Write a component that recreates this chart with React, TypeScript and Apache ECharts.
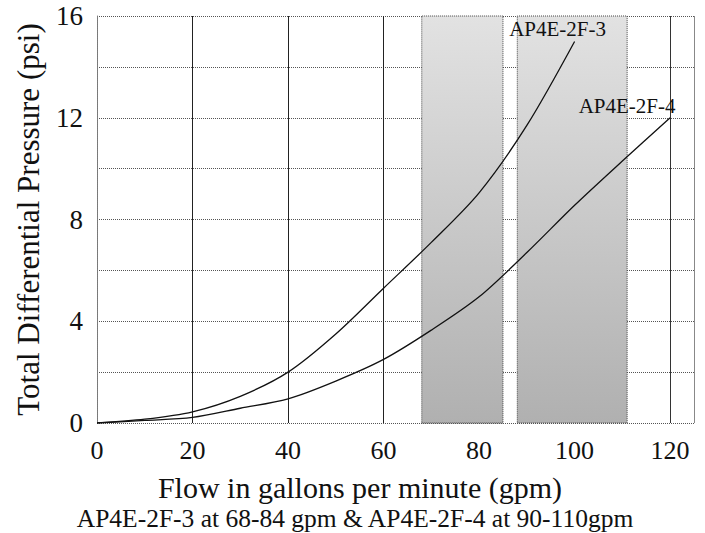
import React, { useEffect, useRef } from "react";
import * as echarts from "echarts";

const flowA = [0, 10, 20, 30, 40, 50, 60, 70, 80, 90, 100];
const pressA = [0, 0.15, 0.44, 1.05, 2.0, 3.5, 5.3, 7.1, 9.05, 11.7, 15.0];
const flowB = [0, 10, 20, 30, 40, 50, 60, 70, 80, 90, 100, 110, 120];
const pressB = [0, 0.1, 0.22, 0.58, 0.95, 1.65, 2.5, 3.65, 4.96, 6.7, 8.56, 10.3, 12.0];
const nameA = "AP4E-2F-3";
const nameB = "AP4E-2F-4";
const bandA = [68, 85];
const bandB = [88, 111];
const xTitle = "Flow in gallons per minute (gpm)";
const subTitle = "AP4E-2F-3 at 68-84 gpm & AP4E-2F-4 at 90-110gpm";
const yTitle = "Total Differential Pressure (psi)";

const FONT = "Liberation Serif";

function mkData(xs: number[], ys: number[], label: any) {
  return xs.map((x, i) =>
    i === xs.length - 1 ? { value: [x, ys[i]], label } : { value: [x, ys[i]] }
  );
}

export default function App() {
  const ref = useRef<HTMLDivElement>(null);
  useEffect(() => {
    document.body.style.margin = "0";
    const chart = echarts.init(ref.current!, null, { renderer: "svg" });
    const shade = {
      type: "linear",
      x: 0,
      y: 0,
      x2: 0,
      y2: 1,
      colorStops: [
        { offset: 0, color: "#e2e2e2" },
        { offset: 1, color: "#b0b0b0" },
      ],
    };
    chart.setOption({
      animation: false,
      backgroundColor: "#fff",
      textStyle: { fontFamily: FONT, color: "#000" },
      grid: { left: 97, top: 16, right: 11, bottom: 110 },
      xAxis: {
        type: "value",
        min: 0,
        max: 125,
        interval: 20,
        axisLine: { show: false },
        axisTick: { show: false },
        axisLabel: {
          showMaxLabel: false,
          fontSize: 26,
          fontFamily: FONT,
          color: "#111",
          margin: 14,
          formatter: (v: number) => (v % 20 === 0 ? String(v) : ""),
        },
        splitLine: {
          show: true,
          lineStyle: {
            color: ["#888", "#222", "#222", "#222", "#222", "#222", "#333", "#888"],
            width: 1,
          },
        },
      },
      yAxis: {
        type: "value",
        min: 0,
        max: 16,
        interval: 2,
        name: yTitle,
        nameLocation: "middle",
        nameGap: 53,
        nameTextStyle: { fontSize: 31, fontFamily: FONT, color: "#111" },
        axisLine: { show: true, lineStyle: { color: "#777", type: "dotted" } },
        axisTick: { show: false },
        axisLabel: {
          fontSize: 27,
          fontFamily: FONT,
          color: "#111",
          margin: 14,
          formatter: (v: number) => (v % 4 === 0 ? String(v) : ""),
        },
        splitLine: { show: true, lineStyle: { color: "#555", type: "dotted", width: 1 } },
      },
      graphic: [
        {
          type: "text",
          x: 360,
          y: 487,
          style: {
            text: xTitle,
            fontSize: 30,
            fontFamily: FONT,
            fill: "#111",
            textAlign: "center",
            textVerticalAlign: "middle",
          },
        },
        {
          type: "text",
          x: 355,
          y: 518,
          style: {
            text: subTitle,
            fontSize: 25.5,
            fontFamily: FONT,
            fill: "#111",
            textAlign: "center",
            textVerticalAlign: "middle",
          },
        },
      ],
      series: [
        {
          type: "line",
          name: nameA,
          smooth: 0.3,
          symbol: "circle",
          symbolSize: 0,
          lineStyle: { color: "#111", width: 1.3 },
          itemStyle: { color: "#111" },
          data: mkData(flowA, pressA, {
            show: true,
            position: "top",
            distance: 2,
            offset: [-17, 0],
            formatter: nameA,
            fontSize: 21,
            fontFamily: FONT,
            color: "#111",
          }),
          markArea: {
            silent: true,
            itemStyle: { color: shade, borderColor: "#444", borderWidth: 1, borderType: "dotted" },
            data: [
              [{ xAxis: bandA[0], yAxis: 0 }, { xAxis: bandA[1], yAxis: 16 }],
              [{ xAxis: bandB[0], yAxis: 0 }, { xAxis: bandB[1], yAxis: 16 }],
            ],
          },
          z: 3,
        },
        {
          type: "line",
          name: nameB,
          smooth: 0.3,
          symbol: "circle",
          symbolSize: 0,
          lineStyle: { color: "#111", width: 1.3 },
          itemStyle: { color: "#111" },
          data: mkData(flowB, pressB, {
            show: true,
            position: "top",
            distance: 1,
            offset: [-43, 0],
            formatter: nameB,
            fontSize: 21,
            fontFamily: FONT,
            color: "#111",
          }),
          z: 3,
        },
      ],
    });
    return () => chart.dispose();
  }, []);
  return <div ref={ref} style={{ width: 705, height: 533 }} />;
}
